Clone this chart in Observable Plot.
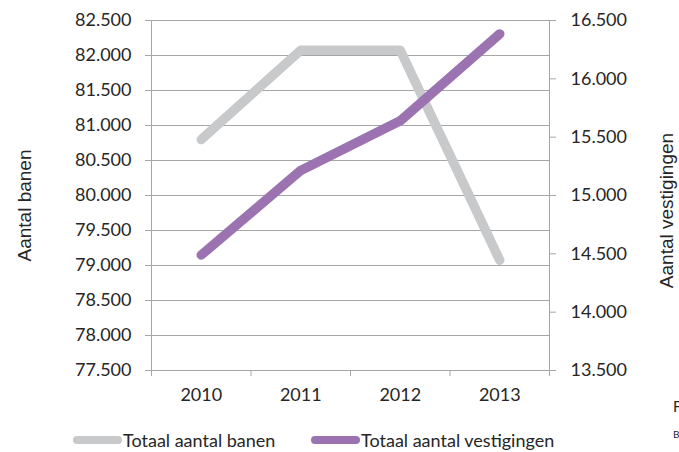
<!DOCTYPE html>
<html><head><meta charset="utf-8">
<script src="https://cdn.jsdelivr.net/npm/d3@7"></script>
<script src="https://cdn.jsdelivr.net/npm/@observablehq/plot@0.6"></script>
<style>
html,body{margin:0;padding:0;background:#fff;overflow:hidden;width:679px;height:452px}
#wrap{position:relative;width:679px;height:452px;overflow:hidden}
#chart svg{display:block}
.legend{position:absolute;top:428px;left:0;height:24px;font-family:Lato,"Open Sans",sans-serif;font-size:18px;color:#262626}
.item{position:absolute;top:0;white-space:nowrap;display:flex;align-items:center;height:24px}
.sw{display:inline-block;width:49px;height:8px;border-radius:4px;margin-right:1px}
.cut{position:absolute;font-family:Lato,sans-serif;color:#262626;white-space:nowrap}
</style></head><body><div id="wrap"><div id="chart"></div>
<div class="legend" id="legend"></div>
<div class="cut" style="left:673px;top:397px;font-size:15px">Figuur</div>
<div class="cut" style="left:673px;top:428px;font-size:10px">Bron</div>
</div>
<script>
const years = [2010, 2011, 2012, 2013];
const yearBounds = [2009.5, 2010.5, 2011.5, 2012.5, 2013.5];
const banen = [80800, 82075, 82075, 79075];
const vestigingen = [14490, 15215, 15640, 16385];
const leftTicks = [77500, 78000, 78500, 79000, 79500, 80000, 80500, 81000, 81500, 82000, 82500];
const rightTicks = [13500, 14000, 14500, 15000, 15500, 16000, 16500];
const leftDomain = [77500, 82500];
const rightDomain = [13500, 16500];
const seriesNames = ["Totaal aantal banen", "Totaal aantal vestigingen"];
const seriesColors = ["#c8c9cb", "#9b73b0"];
const axisTitles = ["Aantal banen", "Aantal vestigingen"];

const nl = d3.formatLocale({decimal: ",", thousands: ".", grouping: [3], currency: ["€", ""]});
const fmt = nl.format(",");
const k = (leftDomain[1] - leftDomain[0]) / (rightDomain[1] - rightDomain[0]);
const toLeft = v => leftDomain[0] + (v - rightDomain[0]) * k;
const fromLeft = v => rightDomain[0] + (v - leftDomain[0]) / k;

const dataBanen = years.map((y, i) => ({year: y, value: banen[i]}));
const dataVest = years.map((y, i) => ({year: y, value: toLeft(vestigingen[i])}));

const grid = "#a6a6a6";
const txt = "#262626";
const tickFont = "Lato, 'Open Sans', sans-serif";

const chart = Plot.plot({
  width: 679,
  height: 420,
  marginTop: 20,
  marginBottom: 50,
  marginLeft: 151,
  marginRight: 130,
  x: {domain: [yearBounds[0], yearBounds[yearBounds.length - 1]], axis: null},
  y: {domain: leftDomain, axis: null},
  style: {background: "#fff"},
  marks: [
    Plot.ruleY(leftTicks, {stroke: grid, strokeWidth: 1}),
    Plot.ruleX([yearBounds[0], yearBounds[yearBounds.length - 1]], {stroke: grid, strokeWidth: 1}),
    Plot.axisY({anchor: "left", ticks: leftTicks, tickFormat: fmt, tickSize: 6, tickPadding: 14,
      stroke: grid, fill: txt, fontSize: 18, fontFamily: tickFont, label: null}),
    Plot.axisY({anchor: "right", ticks: rightTicks.map(toLeft), tickFormat: d => fmt(Math.round(fromLeft(d))),
      tickSize: 6, tickPadding: 15, stroke: grid, fill: txt, fontSize: 18, fontFamily: tickFont, label: null}),
    Plot.axisX({anchor: "bottom", ticks: yearBounds, tickFormat: () => "", tickSize: 6, stroke: grid, label: null}),
    Plot.axisX({anchor: "bottom", ticks: years, tickFormat: d => String(d), tickSize: 0, tickPadding: 18,
      fill: txt, fontSize: 18, fontFamily: tickFont, label: null}),
    Plot.text([axisTitles[0]], {frameAnchor: "left", textAnchor: "middle", dx: -127, dy: 10, rotate: -90, fontSize: 19,
      fontFamily: "'Liberation Sans', Arial, sans-serif", fill: txt}),
    Plot.text([axisTitles[1]], {frameAnchor: "right", textAnchor: "middle", dx: 117, dy: 15, rotate: -90, fontSize: 19,
      fontFamily: "'Liberation Sans', Arial, sans-serif", fill: txt}),
    Plot.line(dataBanen, {x: "year", y: "value", stroke: seriesColors[0], strokeWidth: 9.5,
      strokeLinecap: "round", strokeLinejoin: "round"}),
    Plot.line(dataVest, {x: "year", y: "value", stroke: seriesColors[1], strokeWidth: 9.5,
      strokeLinecap: "round", strokeLinejoin: "round"})
  ]
});
document.getElementById("chart").appendChild(chart);

const legend = document.getElementById("legend");
const lefts = [73, 311];
seriesNames.forEach((name, i) => {
  const it = document.createElement("div");
  it.className = "item";
  it.style.left = lefts[i] + "px";
  const sw = document.createElement("span");
  sw.className = "sw";
  sw.style.background = seriesColors[i];
  it.appendChild(sw);
  const t = document.createElement("span");
  t.textContent = name;
  it.appendChild(t);
  legend.appendChild(it);
});
</script>
</body></html>
